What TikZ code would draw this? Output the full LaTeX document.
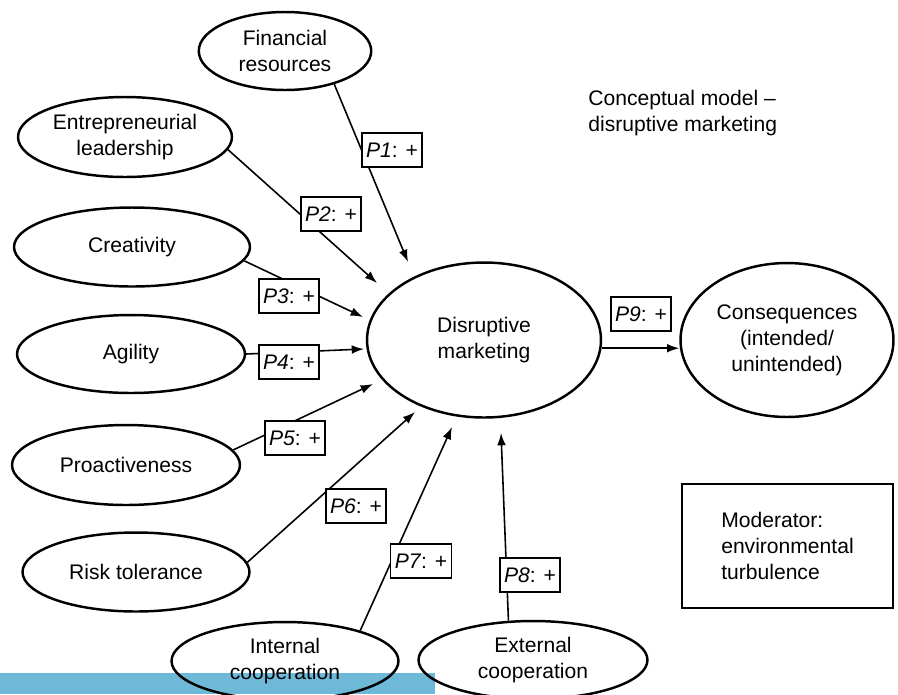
\documentclass[tikz,border=0pt]{standalone}
\usepackage{fontspec}
\setmainfont{Liberation Sans}
\usetikzlibrary{shapes.geometric, arrows.meta}
\definecolor{barblue}{RGB}{110,184,216}

\tikzset{
    construct/.style={ellipse, draw, line width=1.4pt, inner sep=0pt, align=center},
    hyp/.style={draw, fill=white, line width=1pt, inner sep=2.5pt, minimum width=1.2cm, minimum height=0.68cm},
    link/.style={line width=0.9pt, -{Latex[length=7pt,width=5pt]}},
}

\begin{document}
\begin{tikzpicture}[x=0.02cm, y=-0.02cm, font=\fontsize{12}{14.7}\selectfont]
    \useasboundingbox (0,0) rectangle (898,694);
    % strip along the bottom edge
    \fill[barblue] (0,673) rectangle (435,694);

    % antecedents
    \node[construct, minimum width=3.45cm, minimum height=1.56cm] (fin) at (285,51) {Financial\\resources};
    \node[construct, minimum width=4.28cm, minimum height=1.6cm] (ent) at (125,137) {Entrepreneurial\\leadership};
    \node[construct, minimum width=4.72cm, minimum height=1.58cm] (cre) at (132,247) {Creativity};
    \node[construct, minimum width=4.56cm, minimum height=1.56cm] (agi) at (131,354) {Agility};
    \node[construct, minimum width=4.56cm, minimum height=1.6cm] (pro) at (126,465) {Proactiveness};
    \node[construct, minimum width=4.54cm, minimum height=1.58cm] (risk) at (136,572) {Risk tolerance};
    \node[construct, minimum width=4.54cm, minimum height=1.56cm] (int) at (285,661) {Internal\\cooperation};
    \node[construct, minimum width=4.58cm, minimum height=1.56cm] (ext) at (533,660) {External\\cooperation};

    % core construct and outcome
    \node[construct, minimum width=4.68cm, minimum height=3.1cm] (dm) at (484,340) {Disruptive\\marketing};
    \node[construct, minimum width=4.26cm, minimum height=3.08cm] (con) at (787,340) {Consequences\\(intended/\\unintended)};

    % arrow tips stop short of the core ellipse
    \coordinate (t1) at (408,262);
    \coordinate (t2) at (377,283);
    \coordinate (t3) at (363,317);
    \coordinate (t4) at (364,349);
    \coordinate (t5) at (373,384);
    \coordinate (t6) at (415,412);
    \coordinate (t7) at (452,427);
    \coordinate (t8) at (501,433);

    \draw[link] (fin.-34) -- (t1);
    \draw[link] (ent.-7) -- (t2);
    \draw[link] (cre.-7) -- (t3);
    \draw[link] (agi.east) -- (t4);
    \draw[link] (pro.8) -- (t5);
    \draw[link] (risk.5) -- (t6);
    \draw[link] (int.22) -- (t7);
    \draw[link] (ext.122) -- (t8);
    \draw[link] (dm.-4) -- (dm.-4 -| con.west);

    % hypotheses
    \node[hyp] (p1) at (392,150) {\textit{P1}: +};
    \node[hyp] (p2) at (331,214) {\textit{P2}: +};
    \node[hyp] (p3) at (289,296) {\textit{P3}: +};
    \node[hyp] (p4) at (289,362) {\textit{P4}: +};
    \node[hyp] (p5) at (295,438) {\textit{P5}: +};
    \node[hyp] (p6) at (356,506) {\textit{P6}: +};
    \node[hyp] (p7) at (421,561) {\textit{P7}: +};
    \node[hyp] (p8) at (530,575) {\textit{P8}: +};
    \node[hyp] (p9) at (641,314) {\textit{P9}: +};

    % title and moderator
    \node[anchor=west, align=left, inner sep=0pt] (title) at (588,113) {Conceptual model --\\disruptive marketing};
    \node[draw, line width=1.4pt, align=left, minimum width=4.22cm, minimum height=2.48cm] (mod) at (787.5,546) {Moderator:\\environmental\\turbulence};
\end{tikzpicture}
\end{document}
